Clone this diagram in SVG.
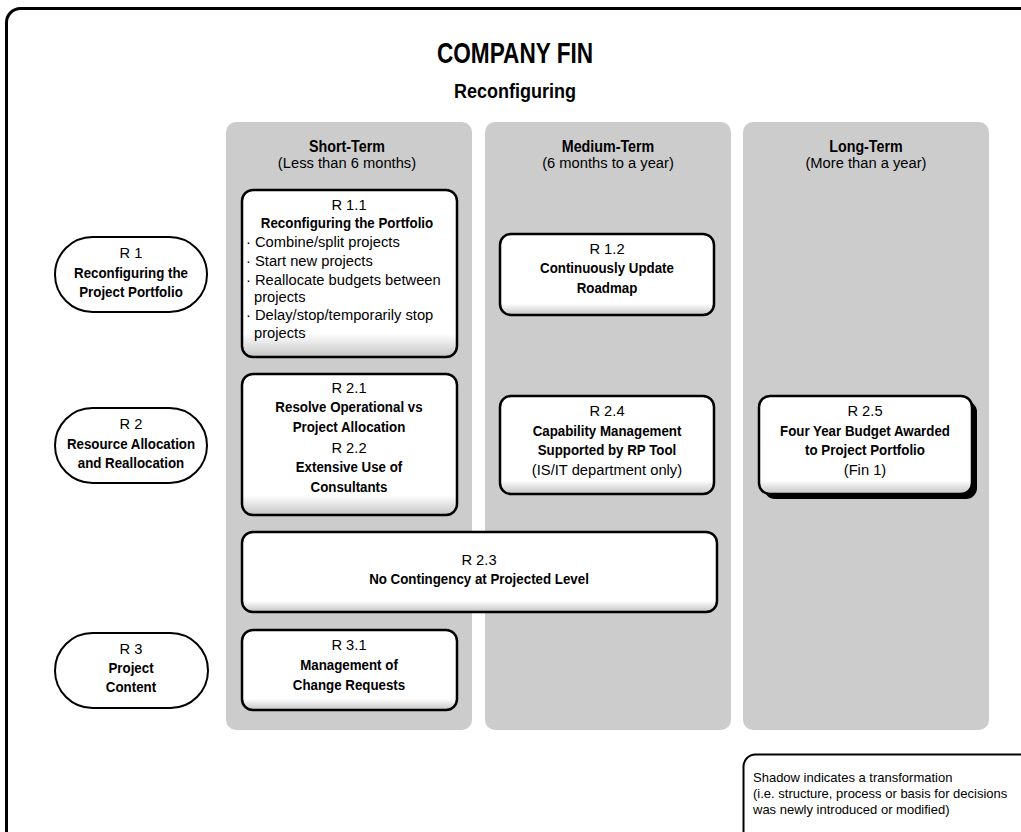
<svg xmlns="http://www.w3.org/2000/svg" width="1021" height="832" viewBox="0 0 1021 832">
  <defs>
    <linearGradient id="bevel" x1="0" y1="0" x2="0" y2="1">
      <stop offset="0" stop-color="#ffffff"/>
      <stop offset="0.86" stop-color="#ffffff"/>
      <stop offset="1" stop-color="#c4c4c4"/>
    </linearGradient>
  </defs>
  <style>
    text { font-family: "Liberation Sans", Arial, sans-serif; fill: #000; transform-box: fill-box; transform-origin: 50% 50%; }
    .c { text-anchor: middle; }
    .l { transform-origin: 0 50%; }
    .t1 { font-size: 29px; font-weight: bold; transform: scaleX(0.78); }
    .t2 { font-size: 20px; font-weight: bold; transform: scaleX(0.9); }
    .h { font-size: 17px; font-weight: bold; transform: scaleX(0.84); }
    .s { font-size: 15.5px; transform: scaleX(0.95); }
    .b { font-size: 15.5px; font-weight: bold; transform: scaleX(0.86); }
    .lg { font-size: 13px; }
    .col { fill: #cccccc; }
    .box { fill: url(#bevel); stroke: #000; stroke-width: 2.5; }
    .oval { fill: #fff; stroke: #000; stroke-width: 2; }
    .frame { fill: #fff; stroke: #000; stroke-width: 3; }
  </style>

  <rect width="1021" height="832" fill="#fff"/>
  <!-- outer frame -->
  <rect class="frame" x="6.5" y="8.5" width="1040" height="850" rx="14"/>

  <text class="t1 c" x="515" y="63">COMPANY FIN</text>
  <text class="t2 c" x="515" y="98">Reconfiguring</text>

  <!-- time horizon columns -->
  <g id="col-short">
    <rect class="col" x="226" y="122" width="246" height="608" rx="10"/>
    <text class="h c" x="347" y="152">Short-Term</text>
    <text class="s c" x="347" y="168">(Less than 6 months)</text>
  </g>
  <g id="col-medium">
    <rect class="col" x="485" y="122" width="246" height="608" rx="10"/>
    <text class="h c" x="608" y="152">Medium-Term</text>
    <text class="s c" x="608" y="168">(6 months to a year)</text>
  </g>
  <g id="col-long">
    <rect class="col" x="743" y="122" width="246" height="608" rx="10"/>
    <text class="h c" x="866" y="152">Long-Term</text>
    <text class="s c" x="866" y="168">(More than a year)</text>
  </g>

  <!-- row categories -->
  <g id="r1">
    <rect class="oval" x="55" y="237" width="152" height="75" rx="37.5"/>
    <text class="s c" x="131" y="258">R 1</text>
    <text class="b c" x="131" y="278">Reconfiguring the</text>
    <text class="b c" x="131" y="297">Project Portfolio</text>
  </g>
  <g id="r2">
    <rect class="oval" x="55" y="408" width="152" height="75" rx="37.5"/>
    <text class="s c" x="131" y="429">R 2</text>
    <text class="b c" x="131" y="449">Resource Allocation</text>
    <text class="b c" x="131" y="468">and Reallocation</text>
  </g>
  <g id="r3">
    <rect class="oval" x="55" y="633" width="153" height="75" rx="37.5"/>
    <text class="s c" x="131" y="654">R 3</text>
    <text class="b c" x="131" y="673">Project</text>
    <text class="b c" x="131" y="692">Content</text>
  </g>

  <!-- measures -->
  <g id="r1-1">
    <rect class="box" x="242" y="190" width="215" height="167" rx="11"/>
    <text class="s c" x="349" y="210">R 1.1</text>
    <text class="b c" x="347" y="228">Reconfiguring the Portfolio</text>
    <text class="s l" x="246" y="247">· Combine/split projects</text>
    <text class="s l" x="246" y="266">· Start new projects</text>
    <text class="s l" x="246" y="285">· Reallocate budgets between</text>
    <text class="s l" x="254" y="302">projects</text>
    <text class="s l" x="246" y="320">· Delay/stop/temporarily stop</text>
    <text class="s l" x="254" y="338">projects</text>
  </g>
  <g id="r1-2">
    <rect class="box" x="500" y="234" width="214" height="81" rx="11"/>
    <text class="s c" x="607" y="254">R 1.2</text>
    <text class="b c" x="607" y="273">Continuously Update</text>
    <text class="b c" x="607" y="293">Roadmap</text>
  </g>
  <g id="r2-1">
    <rect class="box" x="242" y="374" width="215" height="141" rx="11"/>
    <text class="s c" x="349" y="393">R 2.1</text>
    <text class="b c" x="349" y="412">Resolve Operational vs</text>
    <text class="b c" x="349" y="432">Project Allocation</text>
    <text class="s c" x="349" y="453">R 2.2</text>
    <text class="b c" x="349" y="472">Extensive Use of</text>
    <text class="b c" x="349" y="492">Consultants</text>
  </g>
  <g id="r2-4">
    <rect class="box" x="500" y="396" width="214" height="98" rx="11"/>
    <text class="s c" x="607" y="416">R 2.4</text>
    <text class="b c" x="607" y="436">Capability Management</text>
    <text class="b c" x="607" y="455">Supported by RP Tool</text>
    <text class="s c" x="607" y="475">(IS/IT department only)</text>
  </g>
  <g id="r2-5">
    <rect x="764" y="401" width="213" height="98" rx="11" fill="#000"/>
    <rect class="box" x="759" y="396" width="213" height="98" rx="11"/>
    <text class="s c" x="865" y="416">R 2.5</text>
    <text class="b c" x="865" y="436">Four Year Budget Awarded</text>
    <text class="b c" x="865" y="455">to Project Portfolio</text>
    <text class="s c" x="865" y="475">(Fin 1)</text>
  </g>
  <g id="r2-3">
    <rect class="box" x="242" y="532" width="475" height="80" rx="11"/>
    <text class="s c" x="479" y="565">R 2.3</text>
    <text class="b c" x="479" y="584">No Contingency at Projected Level</text>
  </g>
  <g id="r3-1">
    <rect class="box" x="242" y="630" width="215" height="80" rx="11"/>
    <text class="s c" x="349" y="650">R 3.1</text>
    <text class="b c" x="349" y="670">Management of</text>
    <text class="b c" x="349" y="690">Change Requests</text>
  </g>

  <!-- legend -->
  <g id="legend">
    <rect x="743.5" y="754.5" width="300" height="100" rx="12" fill="#fff" stroke="#000" stroke-width="2"/>
    <text class="lg l" x="753" y="782">Shadow indicates a transformation</text>
    <text class="lg l" x="753" y="798">(i.e. structure, process or basis for decisions</text>
    <text class="lg l" x="753" y="814">was newly introduced or modified)</text>
  </g>

  <g id="connectors"></g>
</svg>
